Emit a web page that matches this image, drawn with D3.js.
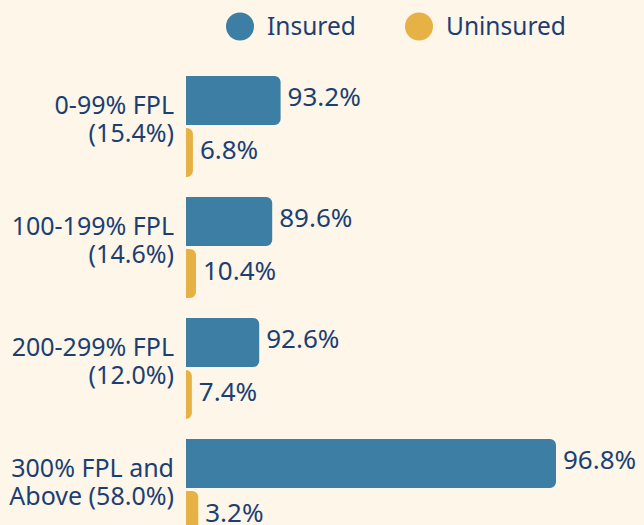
<!DOCTYPE html>
<html>
<head>
<meta charset="utf-8">
<script src="https://cdn.jsdelivr.net/npm/d3@7"></script>
<style>
  html, body { margin: 0; padding: 0; background: #fef6e8; }
  svg text { font-family: "Noto Sans", "Open Sans", sans-serif; fill: #1c3f73; }
</style>
</head>
<body>
<svg id="chart"></svg>
<script>
var categories = ["0-99% FPL", "100-199% FPL", "200-299% FPL", "300% FPL and Above"];
var labelTop = ["0-99% FPL", "100-199% FPL", "200-299% FPL", "300% FPL and"];
var labelBottom = ["(15.4%)", "(14.6%)", "(12.0%)", "Above (58.0%)"];
var popShare = [15.4, 14.6, 12.0, 58.0];
var insured = [93.2, 89.6, 92.6, 96.8];
var uninsured = [6.8, 10.4, 7.4, 3.2];
var seriesNames = ["Insured", "Uninsured"];
var seriesColors = ["#3d7ea4", "#e6b145"];

var width = 644, height = 525;
var x0 = 186;

var svg = d3.select("#chart")
    .attr('width', width)
    .attr('height', height);

// bar length is value weighted by population share
var rows = categories.map(function(c, i){
    return {
        cat: c, i: i,
        vals: [
            {key: "Insured", v: insured[i], w: insured[i]*popShare[i]},
            {key: "Uninsured", v: uninsured[i], w: uninsured[i]*popShare[i]}
        ]
    };
});

var xScale = d3.scaleLinear()
    .domain([0, d3.max(rows, function(r){ return d3.max(r.vals, function(d){ return d.w; }); })])
    .range([0, 370]);

var yScale = d3.scaleBand()
    .domain(categories)
    .range([76, 540])
    .paddingInner(20/121)
    .paddingOuter(0);

var ySub = d3.scaleBand()
    .domain(seriesNames)
    .range([0, yScale.bandwidth()])
    .paddingInner(0.06);

var color = d3.scaleOrdinal().domain(seriesNames).range(seriesColors);

function barPath(w, h, r){
    r = Math.min(r, w, h/2);
    return "M0,0H" + (w - r) + "A" + r + "," + r + " 0 0 1 " + w + "," + r +
        "V" + (h - r) + "A" + r + "," + r + " 0 0 1 " + (w - r) + "," + h + "H0Z";
}

var groups = svg.selectAll("g.row")
    .data(rows)
    .enter()
    .append("g")
    .attr('class', "row")
    .attr('transform', function(d){ return "translate(" + x0 + "," + yScale(d.cat) + ")"; });

groups.selectAll("path")
    .data(function(d){ return d.vals; })
    .enter()
    .append("path")
    .attr('transform', function(d){ return "translate(0," + ySub(d.key) + ")"; })
    .attr('d', function(d){ return barPath(xScale(d.w), ySub.bandwidth(), 6); })
    .style('fill', function(d){ return color(d.key); });

groups.selectAll("text.val")
    .data(function(d){ return d.vals; })
    .enter()
    .append("text")
    .attr('class', "val")
    .attr('x', function(d){ return xScale(d.w) + 7; })
    .attr('y', function(d){ return ySub(d.key) + ySub.bandwidth()/2 + 6; })
    .style('font-size', "26px")
    .text(function(d){ return d.v.toFixed(1) + "%"; });

var lab = groups.append("text")
    .attr('x', -12)
    .attr('text-anchor', "end")
    .style('font-size', "25px");

lab.append("tspan")
    .attr('x', -12)
    .attr('y', 37.5)
    .text(function(d){ return labelTop[d.i]; });

lab.append("tspan")
    .attr('x', -12)
    .attr('y', 65.5)
    .text(function(d){ return labelBottom[d.i]; });

// legend
var legendX = [240, 419];
var legend = svg.selectAll("g.legend")
    .data(seriesNames)
    .enter()
    .append("g")
    .attr('class', "legend")
    .attr('transform', function(d, i){ return "translate(" + legendX[i] + ",26.5)"; });

legend.append("circle")
    .attr('r', 14)
    .style('fill', function(d){ return color(d); });

legend.append("text")
    .attr('x', 27)
    .attr('dy', "0.35em")
    .style('font-size', "24.5px")
    .text(function(d){ return d; });
</script>
</body>
</html>
